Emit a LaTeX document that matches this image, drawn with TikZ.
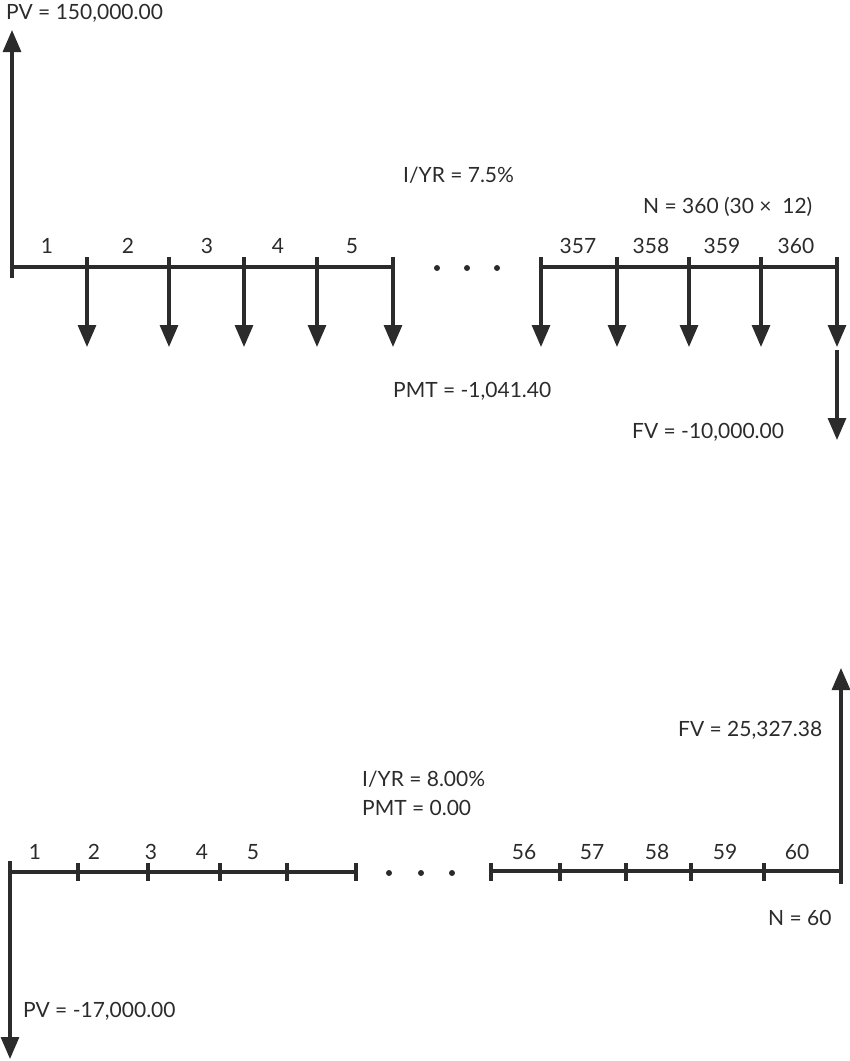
\documentclass[tikz,border=0pt]{standalone}
\usepackage{fontspec}
\setmainfont{Lato}
\usetikzlibrary{arrows.meta}
\definecolor{ink}{HTML}{2B2B2B}
\tikzset{
  line/.style={draw=ink, line width=3.2pt},
  flow/.style={line, -{Triangle[width=18pt,length=22pt]}},
  lbl/.style={text=ink, font=\fontsize{21}{25}\selectfont, inner sep=0pt},
}
\begin{document}
\begin{tikzpicture}[x=1pt,y=-1pt]
\useasboundingbox (0,0) rectangle (850,1061);
% top: loan timeline
\coordinate (pvs) at (12,278);
\coordinate (pve) at (12,30);
\draw[flow] (pvs) -- (pve);
\node[lbl, anchor=base west] (pvtop) at (6,19) {PV = 150,000.00};
\coordinate (a0) at (11,267);
\coordinate (a5) at (393,267);
\draw[line] (a0) -- (a5);
\coordinate (b0) at (541,267);
\coordinate (b4) at (837,267);
\draw[line] (b0) -- (b4);
\foreach \i/\x in {1/87, 2/169, 3/244, 4/317, 5/393, 6/541, 7/617, 8/689, 9/761, 10/837} {
  \coordinate (p\i) at (\x,257);
  \coordinate (q\i) at (\x,347);
  \draw[flow] (p\i) -- (q\i);
}
\foreach \x/\t in {47/1, 128/2, 207/3, 278/4, 352/5, 578/357, 651/358, 722/359, 796/360}
  \node[lbl, anchor=base] (n\t) at (\x,253) {\t};
\foreach \x in {437, 467, 497}
  \fill[ink] (\x,268) circle (3pt);
\coordinate (fvs) at (837,350);
\coordinate (fve) at (837,440);
\draw[flow] (fvs) -- (fve);
\node[lbl, anchor=base west] (iyr) at (403,182) {I/YR = 7.5\%};
\node[lbl, anchor=base west] (ntop) at (643,213) {N = 360 (30 ×\ \ 12)};
\node[lbl, anchor=base west] (pmt) at (393,397) {PMT = -1,041.40};
\node[lbl, anchor=base west] (fvtop) at (632,438) {FV = -10,000.00};

% bottom: savings timeline
\coordinate (c0) at (10,872);
\coordinate (c5) at (356,872);
\draw[line] (c0) -- (c5);
\coordinate (d0) at (491,871);
\coordinate (d5) at (841,871);
\draw[line] (d0) -- (d5);
\foreach \i/\x in {1/78, 2/148, 3/220, 4/287, 5/356, 6/491, 7/560, 8/626, 9/691, 10/764} {
  \coordinate (u\i) at (\x,863);
  \coordinate (v\i) at (\x,881);
  \draw[line] (u\i) -- (v\i);
}
\foreach \x/\t in {35/1, 94/2, 151/3, 202/4, 253/5, 524/56, 592/57, 657/58, 725/59, 797/60}
  \node[lbl, anchor=base] (m\t) at (\x,859) {\t};
\foreach \x in {389, 421, 452}
  \fill[ink] (\x,873) circle (3pt);
\coordinate (fbs) at (841,884);
\coordinate (fbe) at (841,668);
\draw[flow] (fbs) -- (fbe);
\coordinate (pbs) at (10,861);
\coordinate (pbe) at (10,1059);
\draw[flow] (pbs) -- (pbe);
\node[lbl, anchor=base west] (fvbot) at (678,736) {FV = 25,327.38};
\node[lbl, anchor=base west] (iyrb) at (362,786) {I/YR = 8.00\%};
\node[lbl, anchor=base west] (pmtb) at (362,815) {PMT = 0.00};
\node[lbl, anchor=base west] (nbot) at (768,925) {N = 60};
\node[lbl, anchor=base west] (pvbot) at (23,1017) {PV = -17,000.00};
\end{tikzpicture}
\end{document}
